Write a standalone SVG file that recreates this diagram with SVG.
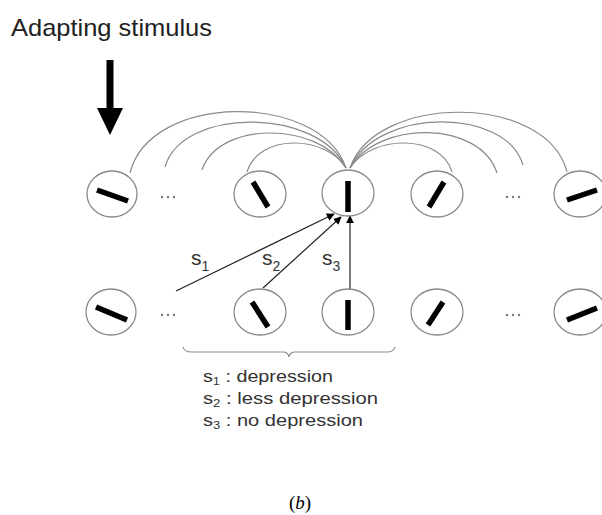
<svg xmlns="http://www.w3.org/2000/svg" width="602" height="515" viewBox="0 0 602 515">
<style>
.cell{fill:#fff;stroke:#8a8a8a;stroke-width:1.3}
.bar{stroke:#000;stroke-width:5.5;stroke-linecap:butt}
.arc{fill:none;stroke:#8a8a8a;stroke-width:1.2}
.conn{fill:none;stroke:#222;stroke-width:1.2}
.dot{fill:#777}
.lbl{font-family:"Liberation Sans",Arial,sans-serif;font-size:21px;fill:#333}
.lsub{font-size:14px}
.leg{font-family:"Liberation Sans",Arial,sans-serif;font-size:17px;fill:#333}
.sub{font-size:11px}
</style>
<defs>
<marker id="ah" viewBox="0 0 10 10" refX="9" refY="5" markerWidth="8" markerHeight="8" markerUnits="userSpaceOnUse" orient="auto">
<path d="M0,0 L10,5 L0,10 z" fill="#000"/>
</marker>
<g id="dots3"><circle class="dot" cx="0" cy="0" r="1.2"/><circle class="dot" cx="6" cy="0" r="1.2"/><circle class="dot" cx="12" cy="0" r="1.2"/></g>
</defs>
<rect width="602" height="515" fill="#fff"/>

<g id="title">
<text x="11" y="36" font-family="Liberation Sans,Arial,sans-serif" font-size="24" fill="#222" textLength="201" lengthAdjust="spacingAndGlyphs">Adapting stimulus</text>
</g>
<g id="stimulus-arrow">
<rect x="106.5" y="60" width="7" height="50" fill="#000"/>
<path d="M97,108 L123,108 L110,135 z" fill="#000"/>
</g>

<g id="connectors">
<path class="arc" d="M130,173 C150,92 320,92 346,168"/>
<path class="arc" d="M165,167 C182,107 318,107 346,168"/>
<path class="arc" d="M202,170 C218,121 318,121 346,168"/>
<path class="arc" d="M247,172 C258,134 325,134 346,168"/>
<path class="arc" d="M567,172 C547,93 376,93 350,168"/>
<path class="arc" d="M523,165 C506,107 378,107 350,168"/>
<path class="arc" d="M497,173 C480,120 378,120 350,168"/>
<path class="arc" d="M452,172 C441,134 372,134 350,168"/>
<line class="conn" x1="176" y1="291" x2="334" y2="214" marker-end="url(#ah)"/>
<line class="conn" x1="263" y1="288" x2="341" y2="217" marker-end="url(#ah)"/>
<line class="conn" x1="350" y1="289" x2="350" y2="216" marker-end="url(#ah)"/>
<path class="arc" d="M183,347 Q184,352 192,352 L283,352 Q288,352 289,357 Q290,352 295,352 L387,352 Q394,352 395,347"/>
</g>

<g id="top-1"><ellipse class="cell" cx="112" cy="194" rx="25" ry="23"/><line class="bar" x1="97" y1="190" x2="128" y2="201"/></g>
<g id="top-dots-left"><use href="#dots3" x="162" y="197"/></g>
<g id="top-2"><ellipse class="cell" cx="260" cy="194" rx="26" ry="23"/><line class="bar" x1="253" y1="182" x2="268" y2="207"/></g>
<g id="top-3"><ellipse class="cell" cx="348" cy="193" rx="26" ry="23"/><line class="bar" x1="348" y1="181" x2="348" y2="212"/></g>
<g id="top-4"><ellipse class="cell" cx="437" cy="194" rx="26" ry="23"/><line class="bar" x1="429" y1="207" x2="444" y2="182"/></g>
<g id="top-dots-right"><use href="#dots3" x="507" y="197"/></g>
<g id="top-5"><ellipse class="cell" cx="580" cy="194" rx="26" ry="23"/><line class="bar" x1="567" y1="200" x2="597" y2="190"/></g>

<g id="bot-1"><ellipse class="cell" cx="111" cy="312" rx="25" ry="23"/><line class="bar" x1="96" y1="307" x2="127" y2="320"/></g>
<g id="bot-dots-left"><use href="#dots3" x="162" y="315"/></g>
<g id="bot-2"><ellipse class="cell" cx="260" cy="312" rx="26" ry="23"/><line class="bar" x1="252" y1="302" x2="268" y2="327"/></g>
<g id="bot-3"><ellipse class="cell" cx="348" cy="312" rx="26" ry="23"/><line class="bar" x1="348" y1="300" x2="348" y2="330"/></g>
<g id="bot-4"><ellipse class="cell" cx="437" cy="312" rx="26" ry="23"/><line class="bar" x1="428" y1="325" x2="443" y2="302"/></g>
<g id="bot-dots-right"><use href="#dots3" x="507" y="315"/></g>
<g id="bot-5"><ellipse class="cell" cx="580" cy="312" rx="26" ry="23"/><line class="bar" x1="567" y1="320" x2="597" y2="308"/></g>

<g id="labels">
<text class="lbl" x="191" y="265">s<tspan class="lsub" dy="6">1</tspan></text>
<text class="lbl" x="262" y="265">s<tspan class="lsub" dy="6">2</tspan></text>
<text class="lbl" x="322" y="265">s<tspan class="lsub" dy="6">3</tspan></text>
</g>

<g id="legend">
<text class="leg" x="203" y="382" textLength="130" lengthAdjust="spacingAndGlyphs">s<tspan class="sub" dy="3">1</tspan><tspan dy="-3"> : depression</tspan></text>
<text class="leg" x="203" y="404" textLength="175" lengthAdjust="spacingAndGlyphs">s<tspan class="sub" dy="3">2</tspan><tspan dy="-3"> : less depression</tspan></text>
<text class="leg" x="203" y="426" textLength="160" lengthAdjust="spacingAndGlyphs">s<tspan class="sub" dy="3">3</tspan><tspan dy="-3"> : no depression</tspan></text>
</g>

<g id="caption">
<text x="300" y="509" text-anchor="middle" font-family="Liberation Serif,Times New Roman,serif" font-size="19" fill="#000">(<tspan font-style="italic">b</tspan>)</text>
</g>
</svg>
